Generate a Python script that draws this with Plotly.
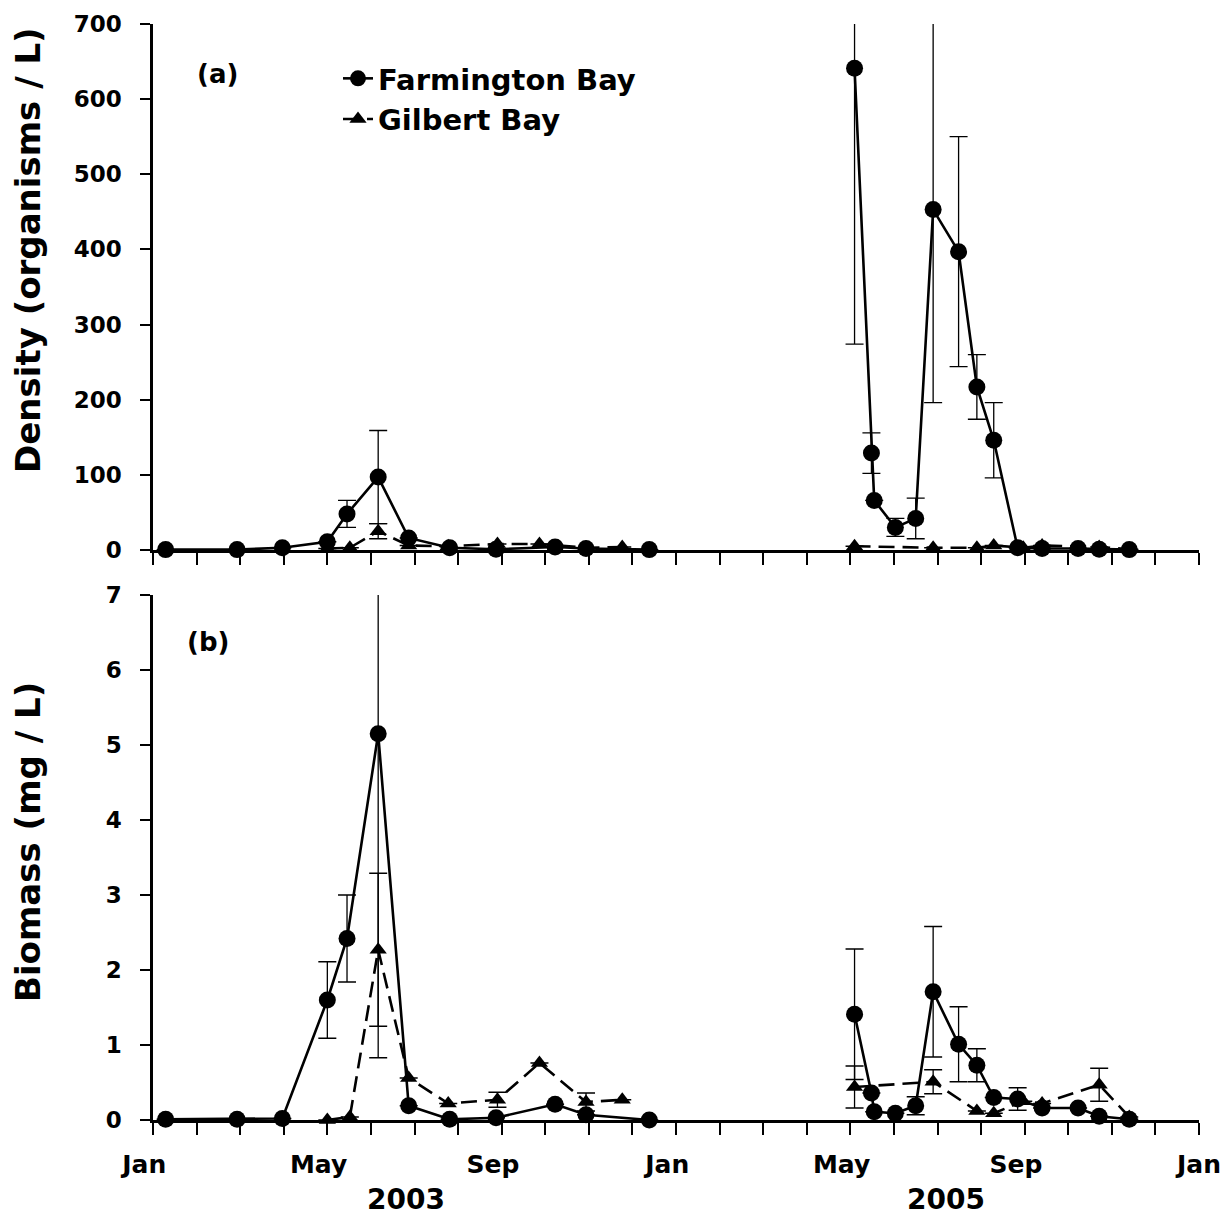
import calendar
import plotly.graph_objects as go

# ---------------- data ----------------
fb_dates = ["2003-01-10", "2003-02-27", "2003-03-31", "2003-05-01", "2003-05-15", "2003-06-06",
            "2003-06-27", "2003-07-26", "2003-08-28", "2003-10-08", "2003-10-30", "2003-12-13",
            "2005-05-04", "2005-05-16", "2005-05-18", "2005-06-02", "2005-06-16", "2005-06-28",
            "2005-07-16", "2005-07-29", "2005-08-10", "2005-08-27", "2005-09-13", "2005-10-08",
            "2005-10-23", "2005-11-13"]
fb_density = [0.5, 0.5, 3, 11, 48, 97, 16, 3, 1, 4, 2, 0.5,
              641, 129, 66, 30, 42, 453, 397, 217, 146, 3, 2, 2, 1, 0.5]
fb_density_err = [0, 0, 0, 0, 18, 62, 0, 0, 0, 0, 0, 0,
                  367, 27, 0, 12, 27, 257, 153, 43, 50, 0, 0, 0, 0, 0]
fb_biomass = [0.01, 0.01, 0.02, 1.60, 2.42, 5.15, 0.19, 0.01, 0.03, 0.21, 0.07, 0.0,
              1.41, 0.36, 0.11, 0.09, 0.19, 1.71, 1.01, 0.73, 0.30, 0.28, 0.16, 0.16, 0.05, 0.01]
fb_biomass_err = [0, 0, 0, 0.51, 0.58, 4.32, 0, 0, 0, 0, 0, 0,
                  0.87, 0, 0, 0, 0.12, 0.87, 0.50, 0.22, 0, 0.15, 0, 0, 0, 0]

gb_dates = ["2003-05-01", "2003-05-17", "2003-06-06", "2003-06-27", "2003-07-25", "2003-08-29",
            "2003-09-27", "2003-10-30", "2003-11-24",
            "2005-05-04", "2005-06-28", "2005-07-29", "2005-08-10", "2005-08-31", "2005-09-13",
            "2005-10-23", "2005-11-13"]
gb_density = [2, 3, 25, 6, 5, 8, 8, 3, 4,
              5, 3, 3, 6, 3, 6, 4, 1]
gb_density_err = [0, 0, 10, 0, 0, 0, 0, 0, 0,
                  0, 0, 0, 0, 0, 0, 0, 0]
gb_biomass = [0.0, 0.04, 2.27, 0.56, 0.22, 0.27, 0.76, 0.24, 0.27,
              0.44, 0.51, 0.12, 0.09, 0.25, 0.22, 0.47, 0.04]
gb_biomass_err = [0, 0, 1.02, 0, 0, 0.10, 0, 0.12, 0,
                  0.28, 0.16, 0, 0, 0, 0, 0.22, 0]

year_offset = {2003: 0, 2005: 12}   # 2004 is omitted from the axis
month_labels = ["Jan", "May", "Sep", "Jan", "May", "Sep", "Jan"]
year_labels = ["2003", "2005"]


def pos(d):
    y, m, dd = (int(v) for v in d.split("-"))
    return year_offset[y] + (m - 1) + (dd - 1) / calendar.monthrange(y, m)[1]


def with_breaks(dates, vals):
    xs, ys = [], []
    prev_year = None
    for d, v in zip(dates, vals):
        yr = d[:4]
        if prev_year is not None and yr != prev_year:
            xs.append(None)
            ys.append(None)
        xs.append(pos(d))
        ys.append(v)
        prev_year = yr
    return xs, ys


FONT = "DejaVu Sans"
BLACK = "black"

fig = go.Figure()


def add_series(dates, vals, errs, xa, ya, name, symbol, dash, show):
    # error bars (clipped to plotting area)
    fig.add_trace(go.Scatter(
        x=[pos(d) for d in dates], y=vals, mode="markers",
        marker=dict(size=1, color="rgba(0,0,0,0)"),
        error_y=dict(type="data", array=errs, visible=True, color=BLACK, thickness=1.3, width=9),
        xaxis=xa, yaxis=ya, showlegend=False, hoverinfo="skip", cliponaxis=True))
    xs, ys = with_breaks(dates, vals)
    fig.add_trace(go.Scatter(
        x=xs, y=ys, mode="lines+markers", name=name,
        line=dict(color=BLACK, width=2.6, dash=dash),
        marker=dict(symbol=symbol, size=17 if symbol == "circle" else 15, color=BLACK),
        xaxis=xa, yaxis=ya, showlegend=show, legendgroup=name, cliponaxis=False,
        connectgaps=False))


add_series(fb_dates, fb_density, fb_density_err, "x", "y", "Farmington Bay", "circle", "solid", True)
add_series(gb_dates, gb_density, gb_density_err, "x", "y", "Gilbert Bay", "triangle-up", "16px,8px", True)
add_series(fb_dates, fb_biomass, fb_biomass_err, "x2", "y2", "Farmington Bay", "circle", "solid", False)
add_series(gb_dates, gb_biomass, gb_biomass_err, "x2", "y2", "Gilbert Bay", "triangle-up", "16px,8px", False)

W, H = 1225, 1222
ML, MR, MT, MB = 153, 26, 24, 102
PH = H - MT - MB

tickvals = list(range(0, 25))
ticktext = []
for i in tickvals:
    if i % 4 != 0:
        ticktext.append("")
    elif i == tickvals[-1]:
        ticktext.append(month_labels[i // 4])
    else:
        ticktext.append(month_labels[i // 4] + "\u00a0\u00a0")

axis_common = dict(showline=True, linecolor=BLACK, linewidth=2.5, showgrid=False, zeroline=False,
                   ticks="outside", tickcolor=BLACK, tickwidth=2.2, ticklabeloverflow="allow",
                   tickfont=dict(family=FONT, size=23, color=BLACK, weight="bold"))

fig.update_layout(
    width=W, height=H,
    margin=dict(l=ML, r=MR, t=MT, b=MB, autoexpand=False),
    paper_bgcolor="white", plot_bgcolor="white",
    font=dict(family=FONT, color=BLACK),
    xaxis=dict(axis_common, domain=[0, 1], range=[0, 24], anchor="y", tickvals=tickvals,
               showticklabels=False, ticklen=12, matches="x2"),
    xaxis2=dict(axis_common, domain=[0, 1], range=[0, 24], anchor="y2", tickvals=tickvals,
                ticktext=ticktext, ticklen=12, ticklabelstandoff=8,
                tickfont=dict(family=FONT, size=25, color=BLACK, weight="bold")),
    yaxis=dict(axis_common, domain=[1 - 526 / PH, 1], range=[0, 700], anchor="x",
               tickvals=list(range(0, 701, 100)), ticklen=10, ticklabelstandoff=14),
    yaxis2=dict(axis_common, domain=[0, 525 / PH], range=[0, 7], anchor="x2",
                tickvals=list(range(0, 8)), ticklen=10, ticklabelstandoff=14),
    legend=dict(x=(338 - ML) / (W - ML - MR), y=1 - (53 - MT) / PH, xanchor="left", yanchor="top",
                bgcolor="rgba(0,0,0,0)", tracegroupgap=0,
                font=dict(family=FONT, size=29, color=BLACK, weight="bold")),
    showlegend=True,
)


def px_to_paper_y(py):
    return 1 - (py - MT) / PH


def px_to_paper_x(px):
    return (px - ML) / (W - ML - MR)


annots = [
    dict(text="Density (organisms / L)", x=px_to_paper_x(28), y=px_to_paper_y(250), size=34, angle=-90),
    dict(text="Biomass (mg / L)", x=px_to_paper_x(28), y=px_to_paper_y(842), size=34, angle=-90),
    dict(text="(a)", x=px_to_paper_x(217), y=px_to_paper_y(74), size=26, angle=0),
    dict(text="(b)", x=px_to_paper_x(208), y=px_to_paper_y(642), size=26, angle=0),
]
for a in annots:
    fig.add_annotation(text=a["text"], x=a["x"], y=a["y"], xref="paper", yref="paper",
                       showarrow=False, textangle=a["angle"], xanchor="center", yanchor="middle",
                       font=dict(family=FONT, size=a["size"], color=BLACK, weight="bold"))

for lbl, xv in zip(year_labels, [5.8, 18.2]):
    fig.add_annotation(text=lbl, x=xv, y=px_to_paper_y(1199), xref="x2", yref="paper",
                       showarrow=False, xanchor="center", yanchor="middle",
                       font=dict(family=FONT, size=28, color=BLACK, weight="bold"))

fig.write_html("out.html", config={"displayModeBar": False},
               post_script="document.body.style.margin='0';")
